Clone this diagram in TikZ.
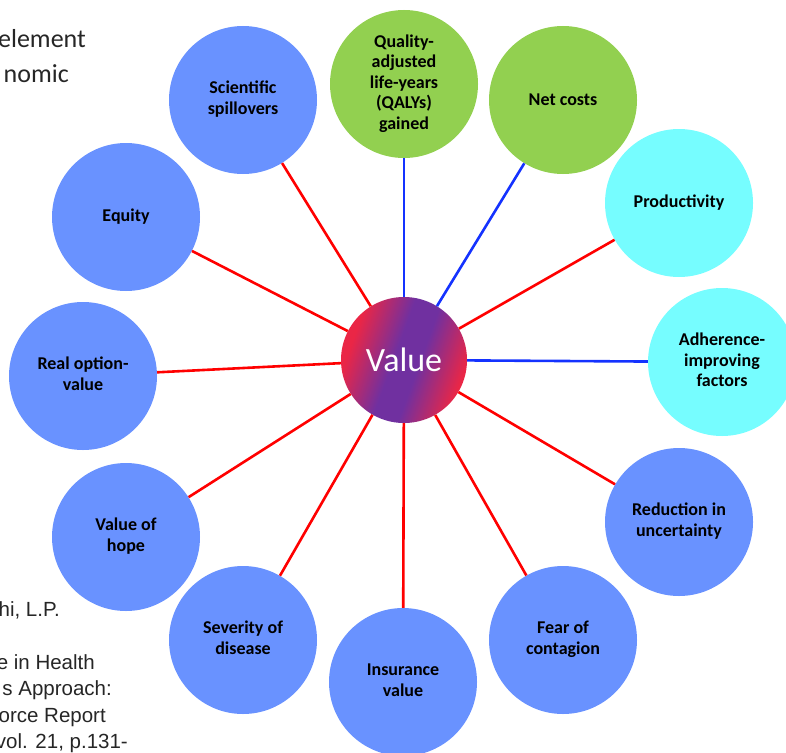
\documentclass[tikz,border=0pt]{standalone}
\usepackage{fontspec}
\setmainfont{Carlito}
\newfontfamily\reffont{Liberation Sans}
\usepackage{tikz}
\usetikzlibrary{positioning}

\definecolor{bubbleblue}{RGB}{105,146,255}
\definecolor{bubblegreen}{RGB}{146,208,80}
\definecolor{bubblecyan}{RGB}{118,253,255}
\definecolor{valred}{RGB}{234,38,70}
\definecolor{valpurple}{RGB}{112,48,160}
\definecolor{linkred}{RGB}{255,0,0}
\definecolor{linkblue}{RGB}{20,50,255}

\pgfdeclarehorizontalshading{valueshade}{100bp}{color(0bp)=(valred);
  color(28bp)=(valred); color(46bp)=(valpurple); color(56bp)=(valpurple);
  color(74bp)=(valred); color(100bp)=(valred)}

\tikzset{
  bubble/.style={circle, minimum size=148pt, inner sep=0pt,
    font=\fontsize{18}{20.5}\selectfont\bfseries, text=black},
  blue bubble/.style={bubble, fill=bubbleblue},
  green bubble/.style={bubble, fill=bubblegreen},
  cyan bubble/.style={bubble, fill=bubblecyan},
  hub/.style={circle, minimum size=126pt, inner sep=0pt,
    shading=valueshade, shading angle=-20, text=white,
    font=\fontsize{34}{40}\selectfont},
  redlink/.style={draw=linkred, line width=2.6pt},
  bluelink/.style={draw=linkblue, line width=2.6pt},
  slidetext/.style={inner sep=0pt, anchor=base east, text=black!85}
}

\begin{document}
\begin{tikzpicture}[x=1pt, y=-1pt]
    \useasboundingbox (0,0) rectangle (786,752);

    % SLIDE TEXT (cut off at the left)
    \node[slidetext, font=\fontsize{26}{30}\selectfont] (TITLE_A) at (86,48) {element};
    \node[slidetext, font=\fontsize{26}{30}\selectfont] (TITLE_B) at (69,82) {nomic};

    \node[slidetext, font=\reffont\fontsize{20.5}{26}\selectfont] (REF_A) at (60,616) {hi, L.P.};
    \node[slidetext, font=\reffont\fontsize{20.5}{26}\selectfont] (REF_B) at (95,669) {e in Health};
    \node[slidetext, font=\reffont\fontsize{20.5}{26}\selectfont] (REF_C) at (112,695) {s Approach:};
    \node[slidetext, font=\reffont\fontsize{20.5}{26}\selectfont] (REF_D) at (106,722) {orce Report};
    \node[slidetext, font=\reffont\fontsize{20.5}{26}\selectfont] (REF_E) at (128,748) {vol. 21, p.131-};

    % CENTRE
    \node[hub] (VALUE) at (404,360) {Value};

    % TOP
    \node[green bubble] (QALYS) at (404,84)
    {
      \begin{tabular}{c}
        Quality-\\ adjusted\\ life-years\\ (QALYs)\\ gained
      \end{tabular}
    };

    \node[green bubble] (NET_COSTS) at (563,100) {Net costs};

    \node[blue bubble] (SCIENTIFIC_SPILLOVERS) at (243,100)
    {
      \begin{tabular}{c}
        Scientific\\ spillovers
      \end{tabular}
    };

    % RIGHT SIDE
    \node[cyan bubble] (PRODUCTIVITY) at (679,203) {Productivity};

    \node[cyan bubble] (ADHERENCE) at (722,362)
    {
      \begin{tabular}{c}
        Adherence-\\ improving\\ factors
      \end{tabular}
    };

    \node[blue bubble] (REDUCTION_UNCERTAINTY) at (679,522)
    {
      \begin{tabular}{c}
        Reduction in\\ uncertainty
      \end{tabular}
    };

    \node[blue bubble] (FEAR_CONTAGION) at (563,640)
    {
      \begin{tabular}{c}
        Fear of\\ contagion
      \end{tabular}
    };

    % BOTTOM
    \node[blue bubble] (INSURANCE_VALUE) at (403,682)
    {
      \begin{tabular}{c}
        Insurance\\ value
      \end{tabular}
    };

    \node[blue bubble] (SEVERITY_DISEASE) at (243,640)
    {
      \begin{tabular}{c}
        Severity of\\ disease
      \end{tabular}
    };

    % LEFT SIDE
    \node[blue bubble] (VALUE_HOPE) at (126,537)
    {
      \begin{tabular}{c}
        Value of\\ hope
      \end{tabular}
    };

    \node[blue bubble] (REAL_OPTION) at (83,376)
    {
      \begin{tabular}{c}
        Real option-\\ value
      \end{tabular}
    };

    \node[blue bubble] (EQUITY) at (126,217) {Equity};

    % LINES
    \path
    (VALUE) edge[bluelink] (QALYS)
    (VALUE) edge[bluelink] (NET_COSTS)
    (VALUE) edge[bluelink] (ADHERENCE)
    (VALUE) edge[redlink] (PRODUCTIVITY)
    (VALUE) edge[redlink] (REDUCTION_UNCERTAINTY)
    (VALUE) edge[redlink] (FEAR_CONTAGION)
    (VALUE) edge[redlink] (INSURANCE_VALUE)
    (VALUE) edge[redlink] (SEVERITY_DISEASE)
    (VALUE) edge[redlink] (VALUE_HOPE)
    (VALUE) edge[redlink] (REAL_OPTION)
    (VALUE) edge[redlink] (EQUITY)
    (VALUE) edge[redlink] (SCIENTIFIC_SPILLOVERS)
    ;
\end{tikzpicture}
\end{document}
